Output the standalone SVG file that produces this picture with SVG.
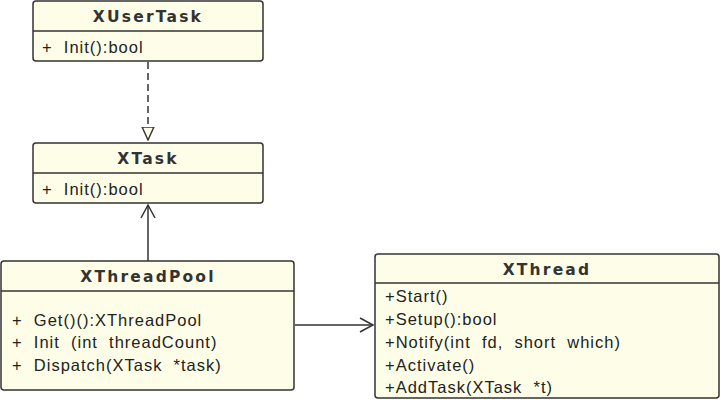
<svg xmlns="http://www.w3.org/2000/svg" width="721" height="400" viewBox="0 0 721 400">
<defs>
<style>
.box{fill:#fefee8;stroke:#333;stroke-width:1.5}
.div{stroke:#333;stroke-width:1.5}
.t{font-family:"DejaVu Sans","Liberation Sans",sans-serif;font-size:15.5px;font-weight:bold;fill:#333;letter-spacing:2.2px;text-anchor:middle}
.m{font-family:"Liberation Sans",Arial,sans-serif;font-size:16.5px;fill:#222;letter-spacing:1px;white-space:pre}
.c{stroke:#333;stroke-width:1.5;fill:none}
</style>
<marker id="tri" markerWidth="14" markerHeight="18" refX="11" refY="6" orient="auto" markerUnits="userSpaceOnUse" viewBox="0 0 12 12">
<path d="M0,1 L11,6 L0,11 Z" fill="#fefee8" stroke="#333" stroke-width="1.2"/>
</marker>
<marker id="open" markerWidth="16" markerHeight="16" refX="14" refY="8" orient="auto" markerUnits="userSpaceOnUse" viewBox="0 0 16 16">
<path d="M1,1 L14,8 L1,15" fill="none" stroke="#333" stroke-width="1.5"/>
</marker>
</defs>
<rect width="721" height="400" fill="#fff"/>
<g id="connectors">
<path class="c" d="M148,62 L148,140" stroke-dasharray="7,4" marker-end="url(#tri)"/>
<path class="c" d="M148,261 L148,205" marker-end="url(#open)"/>
<path class="c" d="M295,325 L373,325" marker-end="url(#open)"/>
</g>
<g id="XUserTask">
<rect class="box" x="33" y="1" width="230" height="60" rx="3"/>
<line class="div" x1="33" y1="31" x2="263" y2="31"/>
<text class="t" x="148" y="22">XUserTask</text>
<text class="m" x="42" y="53">+  Init():bool</text>
</g>
<g id="XTask">
<rect class="box" x="33" y="143" width="230" height="60" rx="3"/>
<line class="div" x1="33" y1="173" x2="263" y2="173"/>
<text class="t" x="148" y="164">XTask</text>
<text class="m" x="42" y="195">+  Init():bool</text>
</g>
<g id="XThreadPool">
<rect class="box" x="1" y="261" width="293" height="129" rx="3"/>
<line class="div" x1="1" y1="291" x2="294" y2="291"/>
<text class="t" x="148" y="282">XThreadPool</text>
<text class="m" x="12" y="326">+  Get()():XThreadPool</text>
<text class="m" x="12" y="348">+  Init  (int  threadCount)</text>
<text class="m" x="12" y="371">+  Dispatch(XTask  *task)</text>
</g>
<g id="XThread">
<rect class="box" x="375" y="254" width="344" height="144" rx="3"/>
<line class="div" x1="375" y1="283" x2="719" y2="283"/>
<text class="t" x="547" y="275">XThread</text>
<text class="m" x="385" y="302">+Start()</text>
<text class="m" x="385" y="325">+Setup():bool</text>
<text class="m" x="385" y="348">+Notify(int  fd,  short  which)</text>
<text class="m" x="385" y="371">+Activate()</text>
<text class="m" x="385" y="393">+AddTask(XTask  *t)</text>
</g>
</svg>
